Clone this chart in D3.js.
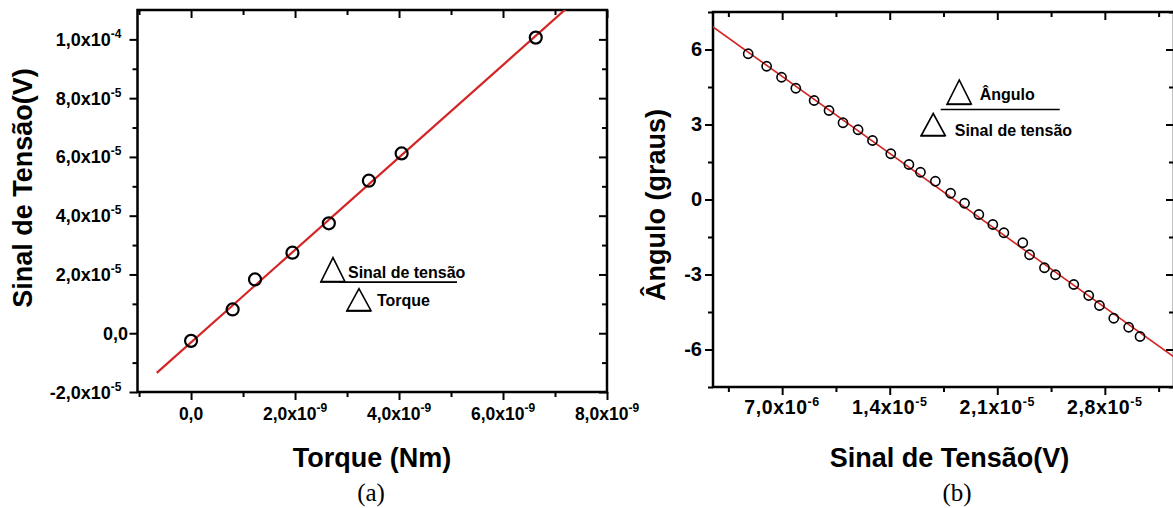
<!DOCTYPE html>
<html><head><meta charset="utf-8">
<script src="https://cdn.jsdelivr.net/npm/d3@7"></script>
<style>
body{margin:0;background:#fff}
svg{display:block}
text{font-family:"Liberation Sans",Arial,sans-serif;font-weight:bold;fill:#000}
</style>
</head><body>
<svg id="c" width="1173" height="508"></svg>
<script>
// ---------- Panel (a) data ----------
const torque = [0, 0.80e-9, 1.23e-9, 1.95e-9, 2.65e-9, 3.42e-9, 4.05e-9, 6.63e-9];
const sinalA = [-2.6e-6, 8.1e-6, 18.3e-6, 27.4e-6, 37.4e-6, 51.9e-6, 61.2e-6, 100.6e-6];
const fitTorque = [-0.66e-9, 7.25e-9];
const fitSinalA = [-13.5e-6, 111e-6];
const aXTicks = [0, 2e-9, 4e-9, 6e-9, 8e-9];
const aXMant = ["0,0", "2,0x10", "4,0x10", "6,0x10", "8,0x10"];
const aXExp = ["", "-9", "-9", "-9", "-9"];
const aXMinor = [-1e-9, 1e-9, 3e-9, 5e-9, 7e-9];
const aYTicks = [-2e-5, 0, 2e-5, 4e-5, 6e-5, 8e-5, 1e-4];
const aYMant = ["-2,0x10", "0,0", "2,0x10", "4,0x10", "6,0x10", "8,0x10", "1,0x10"];
const aYExp = ["-5", "", "-5", "-5", "-5", "-5", "-4"];
const aYMinor = [-1e-5, 1e-5, 3e-5, 5e-5, 7e-5, 9e-5];

// ---------- Panel (b) data ----------
const sinalB = [4.79e-6, 5.99e-6, 6.96e-6, 7.89e-6, 9.08e-6, 10.05e-6, 10.96e-6, 11.94e-6, 12.88e-6, 14.07e-6,
  15.25e-6, 16.0e-6, 16.97e-6, 17.96e-6, 18.87e-6, 19.8e-6, 20.71e-6, 21.43e-6, 22.66e-6, 23.1e-6,
  24.07e-6, 24.79e-6, 25.98e-6, 26.95e-6, 27.65e-6, 28.58e-6, 29.55e-6, 30.29e-6];
const angulo = [5.83, 5.33, 4.89, 4.45, 3.96, 3.56, 3.07, 2.79, 2.36, 1.83,
  1.40, 1.09, 0.73, 0.25, -0.15, -0.60, -1.00, -1.33, -1.73, -2.21,
  -2.73, -3.01, -3.40, -3.84, -4.24, -4.75, -5.11, -5.48];
const fitSinalB = [2.5e-6, 32.5e-6];
const fitAngulo = [6.9, -6.3];
const bXTicks = [7e-6, 14e-6, 21e-6, 28e-6];
const bXMant = ["7,0x10", "1,4x10", "2,1x10", "2,8x10"];
const bXExp = ["-6", "-5", "-5", "-5"];
const bXMinor = [3.5e-6, 10.5e-6, 17.5e-6, 24.5e-6, 31.5e-6];
const bYTicks = [-6, -3, 0, 3, 6];
const bYLabels = ["-6", "-3", "0", "3", "6"];
const bYMinor = [-7.5, -4.5, -1.5, 1.5, 4.5, 7.5];

const RED = "#d42525";
const svg = d3.select("#c");

function mantExp(sel, mant, exp, supSize) {
  sel.append("tspan").text(mant);
  if (exp) sel.append("tspan").attr("dy", -8).attr("font-size", supSize).text(exp);
}

function panel(cfg) {
  const g = svg.append("g");
  const x = d3.scaleLinear().domain(cfg.xDom).range([cfg.x0, cfg.x1]);
  const y = d3.scaleLinear().domain(cfg.yDom).range([cfg.y1, cfg.y0]);
  const clipId = "clip" + cfg.id;
  svg.append("defs").append("clipPath").attr("id", clipId)
    .append("rect").attr("x", cfg.x0).attr("y", cfg.y0)
    .attr("width", cfg.x1 - cfg.x0).attr("height", cfg.y1 - cfg.y0);

  const styleAxis = a => { a.select(".domain").remove(); a.selectAll(".tick line").attr("stroke", "#000").attr("stroke-width", 2); a.selectAll(".tick text").remove(); };
  const mk = (axisFn, scale, vals, size, tx, ty) =>
    g.append("g").attr("transform", `translate(${tx},${ty})`)
      .call(axisFn(scale).tickValues(vals).tickSize(size).tickFormat(() => "")).call(styleAxis);
  mk(d3.axisBottom, x, cfg.xTicks, 8, 0, cfg.y1);
  mk(d3.axisBottom, x, cfg.xMinor, 5, 0, cfg.y1);
  mk(d3.axisTop, x, cfg.xTicks, -8, 0, cfg.y0);
  mk(d3.axisTop, x, cfg.xMinor, -5, 0, cfg.y0);
  mk(d3.axisLeft, y, cfg.yTicks, 8, cfg.x0, 0);
  mk(d3.axisLeft, y, cfg.yMinor, 5, cfg.x0, 0);
  mk(d3.axisRight, y, cfg.yTicks, -8, cfg.x1, 0);
  mk(d3.axisRight, y, cfg.yMinor, -5, cfg.x1, 0);

  g.append("rect").attr("x", cfg.x0).attr("y", cfg.y0)
    .attr("width", cfg.x1 - cfg.x0).attr("height", cfg.y1 - cfg.y0)
    .attr("fill", "none").attr("stroke", "#000").attr("stroke-width", 2.5);

  const line = d3.line().x(d => x(d[0])).y(d => y(d[1]));
  g.append("path").datum(d3.zip(cfg.fitX, cfg.fitY)).attr("d", line)
    .attr("clip-path", `url(#${clipId})`)
    .attr("fill", "none").attr("stroke", RED).attr("stroke-width", cfg.lineW);

  g.selectAll("circle.pt").data(d3.zip(cfg.px, cfg.py)).join("circle")
    .attr("class", "pt").attr("cx", d => x(d[0])).attr("cy", d => y(d[1]))
    .attr("r", cfg.r).attr("fill", "none").attr("stroke", "#000").attr("stroke-width", cfg.ptW);

  cfg.xTicks.forEach((v, i) => {
    const t = g.append("text").attr("x", x(v)).attr("y", cfg.y1 + cfg.xLabOff)
      .attr("text-anchor", "middle").attr("font-size", cfg.xFont)
      .attr("letter-spacing", cfg.xSpacing || 0);
    mantExp(t, cfg.xMant[i], cfg.xExp[i], cfg.supFont);
  });
  cfg.yTicks.forEach((v, i) => {
    const e = cfg.yExp ? cfg.yExp[i] : "";
    const t = g.append("text").attr("x", cfg.x0 - (e ? cfg.yLabOffExp : cfg.yLabOff)).attr("y", y(v) + 6.5)
      .attr("text-anchor", "end").attr("font-size", cfg.yFont);
    mantExp(t, cfg.yMant[i], e, cfg.supFont);
  });
  return {x, y, g};
}

const A = panel({id: "a", x0: 137.5, x1: 607, y0: 10, y1: 392,
  xDom: [-1.03e-9, 8e-9], yDom: [-2e-5, 1.1e-4],
  xTicks: aXTicks, xMinor: aXMinor, xMant: aXMant, xExp: aXExp,
  yTicks: aYTicks, yMinor: aYMinor, yMant: aYMant, yExp: aYExp,
  px: torque, py: sinalA, fitX: fitTorque, fitY: fitSinalA,
  r: 6, ptW: 2.2, lineW: 2.2, xFont: 17.5, yFont: 18, supFont: 12,
  xLabOff: 28, yLabOff: 9.5, yLabOffExp: 16});

const B = panel({id: "b", x0: 713, x1: 1174, y0: 12, y1: 387,
  xDom: [2.5e-6, 32.5e-6], yDom: [-7.5, 7.5],
  xTicks: bXTicks, xMinor: bXMinor, xMant: bXMant, xExp: bXExp, xSpacing: 0.6,
  yTicks: bYTicks, yMinor: bYMinor, yMant: bYLabels, yExp: null,
  px: sinalB, py: angulo, fitX: fitSinalB, fitY: fitAngulo,
  r: 4.6, ptW: 1.6, lineW: 1.6, xFont: 19.5, yFont: 20, supFont: 12.5,
  xLabOff: 27, yLabOff: 11, yLabOffExp: 11});

svg.append("text").attr("x", 372).attr("y", 467).attr("text-anchor", "middle").attr("font-size", 27).text("Torque (Nm)");
svg.append("text").attr("x", 949.5).attr("y", 467).attr("text-anchor", "middle").attr("font-size", 27).text("Sinal de Tensão(V)");
svg.append("text").attr("transform", "translate(32,188) rotate(-90)").attr("text-anchor", "middle").attr("font-size", 27).text("Sinal de Tensão(V)");
svg.append("text").attr("transform", "translate(665,205) rotate(-90)").attr("text-anchor", "middle").attr("font-size", 27).text("Ângulo (graus)");

svg.append("text").attr("x", 371).attr("y", 501).attr("text-anchor", "middle").attr("font-size", 25)
  .style("font-family", "'Liberation Serif','Times New Roman',serif").style("font-weight", "normal").text("(a)");
svg.append("text").attr("x", 957).attr("y", 501).attr("text-anchor", "middle").attr("font-size", 25)
  .style("font-family", "'Liberation Serif','Times New Roman',serif").style("font-weight", "normal").text("(b)");

function tri(g, ax, ay, w, h) {
  g.append("path").attr("d", `M${ax},${ay} L${ax - w / 2},${ay + h} L${ax + w / 2},${ay + h} Z`)
    .attr("fill", "none").attr("stroke", "#000").attr("stroke-width", 1.6).attr("stroke-linejoin", "miter");
}
function fraction(ox, oy, num, den, o) {
  const g = svg.append("g").attr("transform", `translate(${ox},${oy})`);
  tri(g, o.t1x, o.t1y, 24, 24);
  g.append("line").attr("x1", o.t1x - 13).attr("x2", o.t1x + 12).attr("y1", o.t1y + 24.5).attr("y2", o.t1y + 24.5)
    .attr("stroke", "#000").attr("stroke-width", 1.4);
  g.append("text").attr("x", o.n1x).attr("y", o.n1y).attr("font-size", 16).text(num);
  g.append("line").attr("x1", 0).attr("x2", o.len).attr("y1", 0).attr("y2", 0).attr("stroke", "#000").attr("stroke-width", 1.6);
  tri(g, o.t2x, o.t2y, 24, 22);
  g.append("line").attr("x1", o.t2x - 13).attr("x2", o.t2x + 12).attr("y1", o.t2y + 22.5).attr("y2", o.t2y + 22.5)
    .attr("stroke", "#000").attr("stroke-width", 1.4);
  g.append("text").attr("x", o.n2x).attr("y", o.n2y).attr("font-size", 16).text(den);
}
fraction(A.x(2.845e-9), A.y(17.4e-6), "Sinal de tensão", "Torque",
  {t1x: -6, t1y: -24.5, n1x: 9, n1y: -4, len: 118, t2x: 20, t2y: 6.5, n2x: 38, n2y: 24});
fraction(B.x(17.32e-6), B.y(3.6), "Ângulo", "Sinal de tensão",
  {t1x: 18.5, t1y: -29.5, n1x: 39, n1y: -10, len: 119, t2x: -7.5, t2y: 4, n2x: 14, n2y: 26});
</script>
</body></html>
